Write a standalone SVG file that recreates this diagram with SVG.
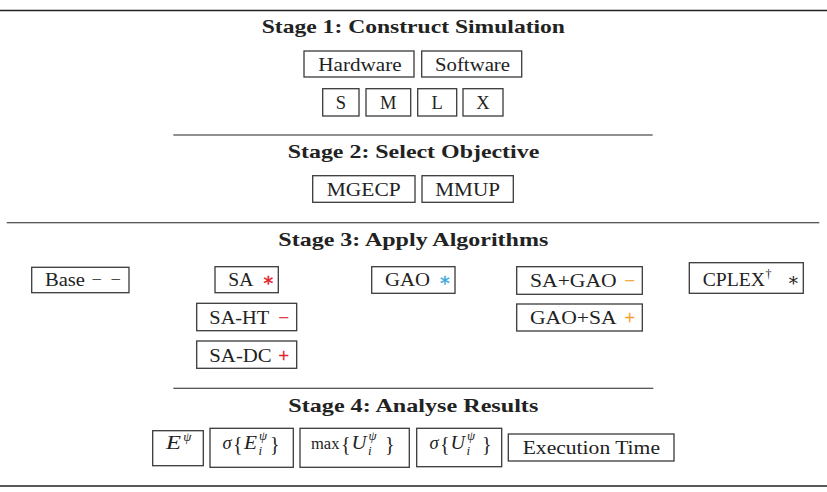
<svg xmlns="http://www.w3.org/2000/svg" width="827" height="492" viewBox="0 0 827 492">
  <style>
    text { font-family: "Liberation Serif", "DejaVu Serif", serif; fill: #222; }
    .title { font-weight: bold; font-size: 19.5px; }
    .lbl { font-size: 18.5px; }
    .math { font-size: 18.5px; font-style: italic; }
    .up { font-style: normal; }
    .br { font-size: 20px; font-style: normal; }
    .sc { font-size: 13px; font-style: italic; }
    .box { fill: #fff; stroke: #3a3a3a; stroke-width: 1.3; }
    .rule { stroke: #222; stroke-width: 1.1; }
    .thick { stroke: #222; stroke-width: 1.6; }
    .red { fill: #e3202a; stroke: #e3202a; stroke-width: 0.4; }
    .blue { fill: #2ea6dc; stroke: #2ea6dc; stroke-width: 0.3; }
    .orange { fill: #f4a02c; stroke: #f4a02c; stroke-width: 0.4; }
  </style>

  <g id="rules">
    <line class="thick" x1="0" y1="10.5" x2="827" y2="10.5"/>
    <line class="rule" x1="173.3" y1="135" x2="652.7" y2="135"/>
    <line class="rule" x1="6.7" y1="222.7" x2="819.3" y2="222.7"/>
    <line class="rule" x1="173.3" y1="388.3" x2="653.3" y2="388.3"/>
    <line class="thick" x1="0" y1="486" x2="827" y2="486"/>
  </g>

  <g id="titles">
    <text class="title" x="261.7" y="33.3" textLength="303.3" lengthAdjust="spacingAndGlyphs">Stage 1: Construct Simulation</text>
    <text class="title" x="287.7" y="158.3" textLength="251.6" lengthAdjust="spacingAndGlyphs">Stage 2: Select Objective</text>
    <text class="title" x="278.3" y="245.5" textLength="270" lengthAdjust="spacingAndGlyphs">Stage 3: Apply Algorithms</text>
    <text class="title" x="288.3" y="411.7" textLength="250" lengthAdjust="spacingAndGlyphs">Stage 4: Analyse Results</text>
  </g>

  <!-- Stage 1 -->
  <g id="hardware">
    <rect class="box" x="304" y="51" width="110" height="26"/>
    <text class="lbl" x="318.3" y="70.7" textLength="83.4" lengthAdjust="spacingAndGlyphs">Hardware</text>
  </g>
  <g id="software">
    <rect class="box" x="421.7" y="51" width="100" height="26"/>
    <text class="lbl" x="435" y="70.7" textLength="75" lengthAdjust="spacingAndGlyphs">Software</text>
  </g>
  <g id="size-s">
    <rect class="box" x="322.7" y="88.7" width="36.3" height="27.3"/>
    <text class="lbl" x="340.8" y="109.3" text-anchor="middle">S</text>
  </g>
  <g id="size-m">
    <rect class="box" x="366" y="88.7" width="44.7" height="27.3"/>
    <text class="lbl" x="388.3" y="109.3" text-anchor="middle">M</text>
  </g>
  <g id="size-l">
    <rect class="box" x="417.7" y="88.7" width="39" height="27.3"/>
    <text class="lbl" x="437.2" y="109.3" text-anchor="middle">L</text>
  </g>
  <g id="size-x">
    <rect class="box" x="463" y="88.7" width="40" height="27.3"/>
    <text class="lbl" x="483" y="109.3" text-anchor="middle">X</text>
  </g>

  <!-- Stage 2 -->
  <g id="mgecp">
    <rect class="box" x="312.7" y="175.7" width="102.3" height="26.6"/>
    <text class="lbl" x="326.7" y="196" textLength="74" lengthAdjust="spacingAndGlyphs">MGECP</text>
  </g>
  <g id="mmup">
    <rect class="box" x="422" y="175.7" width="91.3" height="26.6"/>
    <text class="lbl" x="435.3" y="196" textLength="64.7" lengthAdjust="spacingAndGlyphs">MMUP</text>
  </g>

  <!-- Stage 3 -->
  <g id="base">
    <rect class="box" x="31.7" y="267.3" width="97.3" height="25.4"/>
    <text class="lbl" x="45" y="286.3" textLength="40" lengthAdjust="spacingAndGlyphs">Base</text>
    <text class="lbl" x="91.5" y="286.3">−</text>
    <text class="lbl" x="110.5" y="286.3">−</text>
  </g>
  <g id="sa">
    <rect class="box" x="215" y="266.7" width="63.3" height="26"/>
    <text class="lbl" x="228.3" y="286.3" textLength="25" lengthAdjust="spacingAndGlyphs">SA</text>
    <text class="lbl red" x="262" y="286.3">∗</text>
  </g>
  <g id="sa-ht">
    <rect class="box" x="196.7" y="303.3" width="100" height="27.4"/>
    <text class="lbl" x="209.3" y="324" textLength="60" lengthAdjust="spacingAndGlyphs">SA-HT</text>
    <text class="lbl red" x="278.5" y="324">−</text>
  </g>
  <g id="sa-dc">
    <rect class="box" x="196.7" y="341" width="100" height="27.3"/>
    <text class="lbl" x="209.3" y="361.7" textLength="62.4" lengthAdjust="spacingAndGlyphs">SA-DC</text>
    <text class="lbl red" x="278.5" y="361.7">+</text>
  </g>
  <g id="gao">
    <rect class="box" x="371.7" y="266.7" width="83.3" height="26.6"/>
    <text class="lbl" x="385" y="286.3" textLength="45" lengthAdjust="spacingAndGlyphs">GAO</text>
    <text class="lbl blue" x="438.5" y="286.3">∗</text>
  </g>
  <g id="sa-gao">
    <rect class="box" x="516.7" y="266.7" width="125.6" height="27.6"/>
    <text class="lbl" x="530" y="286.7" textLength="86.7" lengthAdjust="spacingAndGlyphs">SA+GAO</text>
    <text class="lbl orange" x="624.5" y="286.7">−</text>
  </g>
  <g id="gao-sa">
    <rect class="box" x="516.7" y="304" width="125.6" height="27"/>
    <text class="lbl" x="530" y="324" textLength="86.7" lengthAdjust="spacingAndGlyphs">GAO+SA</text>
    <text class="lbl orange" x="624.5" y="324">+</text>
  </g>
  <g id="cplex">
    <rect class="box" x="689.3" y="262.7" width="114" height="30.6"/>
    <text class="lbl" x="702.7" y="286.3" textLength="62.3" lengthAdjust="spacingAndGlyphs">CPLEX</text>
    <text class="lbl" x="765.5" y="278" style="font-size:12px">†</text>
    <text class="lbl" x="787" y="286.3">∗</text>
  </g>

  <!-- Stage 4 -->
  <g id="energy">
    <rect class="box" x="152.7" y="430.7" width="50.6" height="35"/>
    <text class="math" x="166" y="448.5" textLength="15" lengthAdjust="spacingAndGlyphs">E</text>
    <text class="sc" x="183.3" y="441">ψ</text>
  </g>
  <g id="sigma-energy">
    <rect class="box" x="210" y="428.3" width="83.3" height="39"/>
    <text class="math" x="222.5" y="448.5">σ</text>
    <text class="br" x="233" y="451">{</text>
    <text class="math" x="244" y="448.5" textLength="13" lengthAdjust="spacingAndGlyphs">E</text>
    <text class="sc" x="259" y="440">ψ</text>
    <text class="sc" x="258.5" y="455">i</text>
    <text class="br" x="270" y="451">}</text>
  </g>
  <g id="max-util">
    <rect class="box" x="300" y="428.3" width="109.3" height="39"/>
    <text class="math up" x="311" y="448.5" style="font-size:16.5px">max</text>
    <text class="br" x="341" y="451">{</text>
    <text class="math" x="351.5" y="448.5" textLength="15" lengthAdjust="spacingAndGlyphs">U</text>
    <text class="sc" x="368.5" y="440">ψ</text>
    <text class="sc" x="368" y="455">i</text>
    <text class="br" x="385" y="451">}</text>
  </g>
  <g id="sigma-util">
    <rect class="box" x="416.7" y="428.3" width="85" height="38.4"/>
    <text class="math" x="429.5" y="448.5">σ</text>
    <text class="br" x="440" y="451">{</text>
    <text class="math" x="450.5" y="448.5" textLength="14.5" lengthAdjust="spacingAndGlyphs">U</text>
    <text class="sc" x="467" y="440">ψ</text>
    <text class="sc" x="466.5" y="455">i</text>
    <text class="br" x="482" y="451">}</text>
  </g>
  <g id="exec-time">
    <rect class="box" x="508.3" y="434" width="165.7" height="27"/>
    <text class="lbl" x="522.7" y="454" textLength="137.3" lengthAdjust="spacingAndGlyphs">Execution Time</text>
  </g>
</svg>
